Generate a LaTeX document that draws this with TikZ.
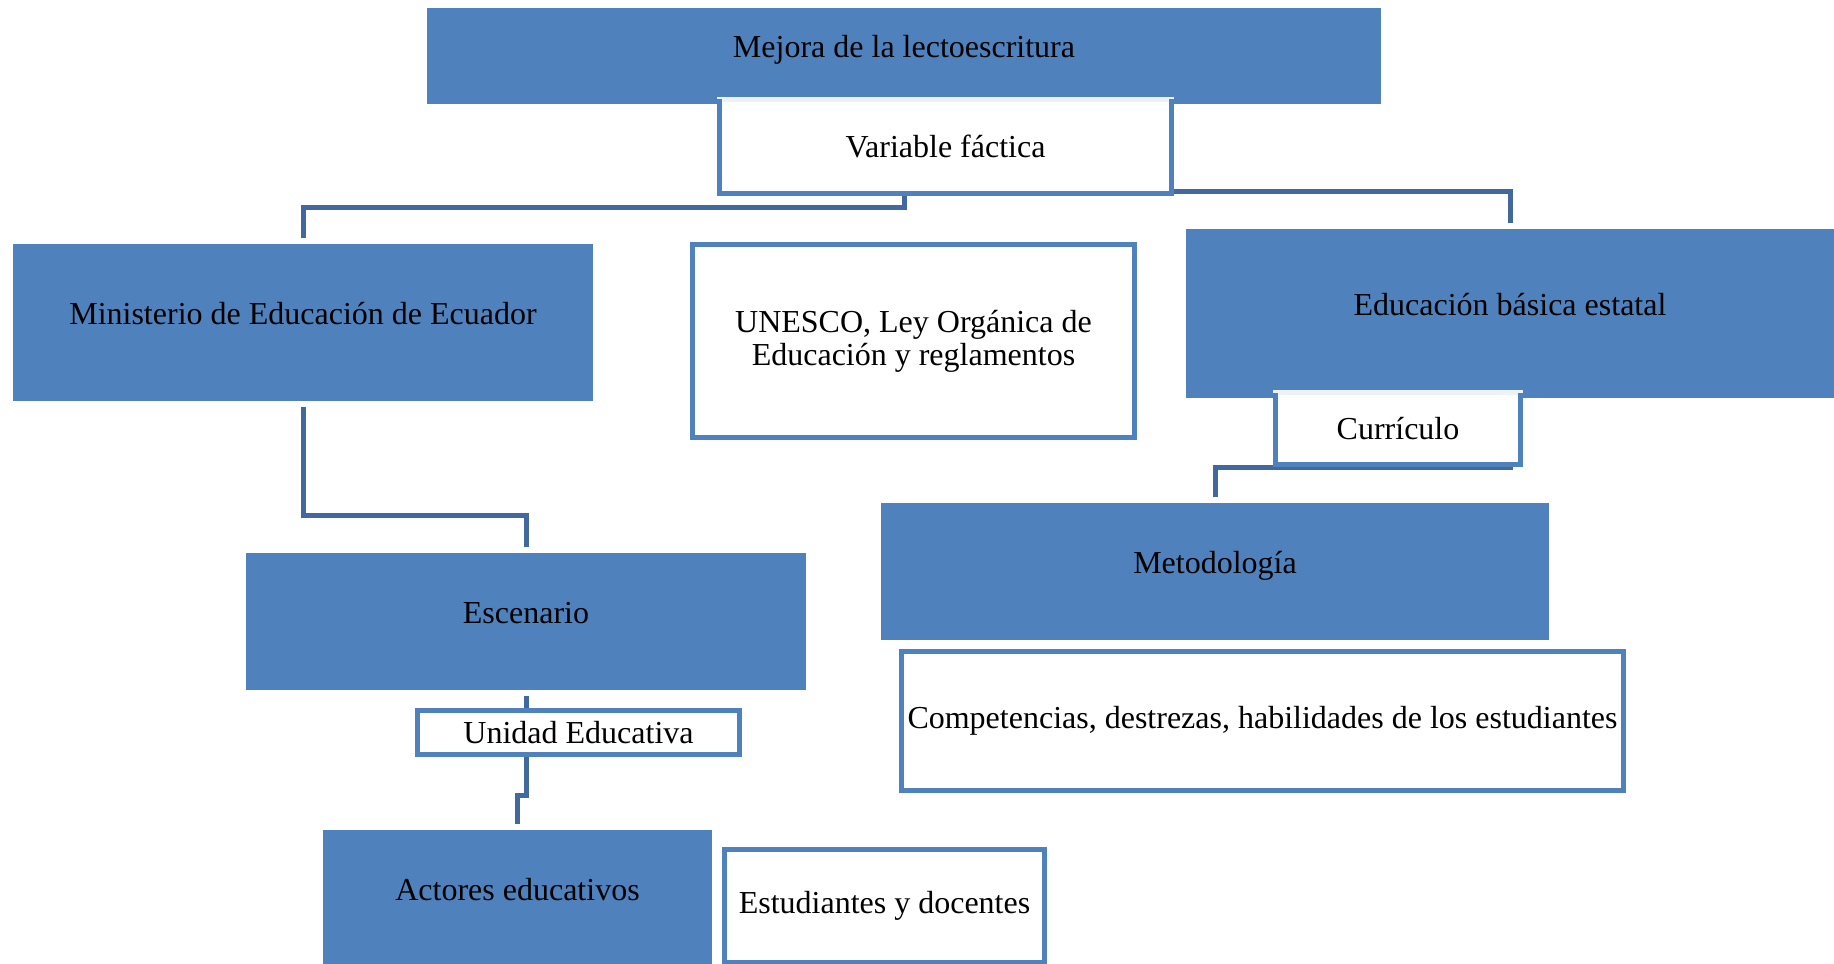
\documentclass[tikz,border=0pt]{standalone}
\usepackage{fontspec}
\setmainfont{Liberation Serif}
\usepackage{tikz}
\usepackage{xcolor}
\usetikzlibrary{backgrounds}
\definecolor{boxblue}{HTML}{4F81BD}
\definecolor{lineblue}{HTML}{41699D}
\definecolor{paleblue}{HTML}{EDF2F8}

\begin{document}
\begin{tikzpicture}%
  [x=0.5pt,y=-0.5pt,font=\fontsize{16}{16.5}\selectfont,
   conn/.style={draw=lineblue,line width=2.5pt,shorten <=3pt,shorten >=3pt}]
  \tikzstyle{fill node}=[rectangle,fill=boxblue,inner sep=0,outer sep=0,
    text height=11pt,text depth=9pt]
  \tikzstyle{line node}=[rectangle,draw=boxblue,line width=2.6pt,fill=white,
    inner sep=0,outer sep=0,align=center]
  \tikzstyle{tab node}=[rectangle,draw=paleblue,line width=2.6pt,fill=white,
    inner sep=0,outer sep=0]
  \clip (0,0) rectangle (1834,963);
  % top
  \node(mej)[fill node,minimum width=477pt,minimum height=48pt] at (904,56)
    {Mejora de la lectoescritura};
  \node(var)[tab node,minimum width=226pt,minimum height=47pt] at (945.5,146.5)
    {Variable fáctica};
  \draw[boxblue,line width=2.6pt] (var.north west) |- (var.south east) -- (var.north east);
  % second row
  \node(min)[fill node,minimum width=290pt,minimum height=78.5pt] at (303,322.5)
    {Ministerio de Educación de Ecuador};
  \node(une)[line node,minimum width=221pt,minimum height=96.5pt] at (913.5,341)
    {UNESCO, Ley Orgánica de\\Educación y reglamentos};
  \node(edu)[fill node,minimum width=324pt,minimum height=84.5pt] at (1510,313.5)
    {Educación básica estatal};
  \node(cur)[tab node,minimum width=122.5pt,minimum height=36pt] at (1398,428.5)
    {Currículo};
  \draw[boxblue,line width=2.6pt] (cur.north west) |- (cur.south east) -- (cur.north east);
  % third row
  \node(esc)[fill node,minimum width=280pt,minimum height=68.5pt] at (526,621.5)
    {Escenario};
  \node(uni)[line node,minimum width=161pt,minimum height=22pt] at (578.5,732.5)
    {Unidad Educativa};
  \node(met)[fill node,minimum width=334pt,minimum height=68.5pt] at (1215,571.5)
    {Metodología};
  \node(com)[line node,minimum width=361pt,minimum height=69.5pt] at (1262.5,721)
    {Competencias, destrezas, habilidades de los estudiantes};
  % bottom
  \node(act)[fill node,minimum width=194.5pt,minimum height=68pt] at (517.5,898)
    {Actores educativos};
  \node(est)[line node,minimum width=160pt,minimum height=56.5pt] at (884.5,906)
    {Estudiantes y docentes};
  % connectors
  \begin{scope}[on background layer]
    \coordinate (k1) at (0,207);
    \coordinate (k2) at (0,191);
    \coordinate (k3) at (0,467);
    \coordinate (k4) at (0,515);
    \coordinate (k5) at (0,795);
    \draw[conn] (mej.south) -- (mej.south |- k1) -| (min.north);
    \draw[conn] (mej.south) -- (mej.south |- k2) -| (edu.north);
    \draw[conn] (edu.south) -- (edu.south |- k3) -| (met.north);
    \draw[conn] (min.south) -- (min.south |- k4) -| (esc.north);
    \draw[conn] (esc.south) -- (esc.south |- k5) -| (act.north);
  \end{scope}
\end{tikzpicture}
\end{document}
